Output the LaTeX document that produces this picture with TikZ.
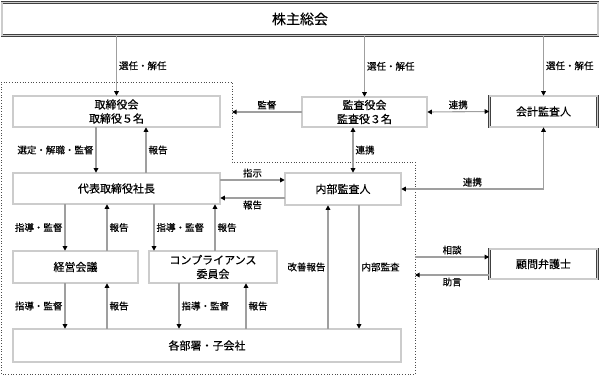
\documentclass[tikz,border=0pt]{standalone}
\usepackage{fontspec}
\setmainfont{Noto Sans CJK JP}[FakeBold=0.35]
\usetikzlibrary{arrows.meta,positioning,calc}
\tikzset{
    every picture/.style={line width=0.75pt},
    kbox/.style={draw=gray!50!black, double=gray!40, double distance=1.1pt, line width=0.55pt,
        fill=white, align=center, inner sep=0pt, font=\fontsize{11}{14}\selectfont},
    conn/.style={draw=gray!75, line width=1.1pt, -{Triangle[length=4.5pt,width=4.5pt,color=black]}},
    bconn/.style={conn, {Triangle[length=4.5pt,width=4.5pt,color=black]}-{Triangle[length=4.5pt,width=4.5pt,color=black]}},
    lbl/.style={font=\fontsize{9.5}{11}\selectfont, text=black, inner sep=2pt},
    border/.style={draw=gray!60!black, dotted, line width=0.7pt},
}

\begin{document}
\begin{tikzpicture}[x=1pt, y=-1pt]
    \useasboundingbox (0,0) rectangle (601,375);
    % 点線の枠
    \draw[border] (1,82) -- (232,82) -- (232,162) -- (415,162) -- (415,374) -- (1,374) -- cycle;
    % 各ボックス
    \node[kbox, minimum width=596pt, minimum height=33pt, font=\fontsize{14}{16}\selectfont] (soukai) at (300,19) {株主総会};
    \node[kbox, minimum width=207pt, minimum height=31pt] (torishimari) at (116.5,111.5) {取締役会\\取締役５名};
    \node[kbox, minimum width=125pt, minimum height=30pt] (kansayaku) at (364.5,112) {監査役会\\監査役３名};
    \node[kbox, minimum width=108pt, minimum height=31pt] (kaikei) at (543.5,111.5) {会計監査人};
    \node[kbox, minimum width=207pt, minimum height=31pt] (daihyo) at (116.5,188.5) {代表取締役社長};
    \node[kbox, minimum width=116pt, minimum height=32pt] (naibu) at (343,189) {内部監査人};
    \node[kbox, minimum width=125pt, minimum height=32pt] (keiei) at (75.5,267) {経営会議};
    \node[kbox, minimum width=128pt, minimum height=32pt] (compl) at (213,267) {コンプライアンス\\委員会};
    \node[kbox, minimum width=388pt, minimum height=33pt] (kakubu) at (207,345.5) {各部署・子会社};
    \node[kbox, minimum width=108pt, minimum height=30pt] (bengoshi) at (543.5,264) {顧問弁護士};
    % 矢印の位置
    \coordinate (xSentei) at (96,0);
    \coordinate (xHoukokuA) at (146,0);
    \coordinate (xRenkei) at (353,0);
    \coordinate (yShiji) at (0,180);
    \coordinate (yHoukokuB) at (0,198);
    \coordinate (xShidouA) at (65,0);
    \coordinate (xHoukokuC) at (107,0);
    \coordinate (xShidouB) at (154,0);
    \coordinate (xHoukokuD) at (215,0);
    \coordinate (xShidouC) at (179,0);
    \coordinate (xHoukokuE) at (246,0);
    \coordinate (xKaizen) at (328,0);
    \coordinate (xKansa) at (359,0);
    \coordinate (kantokuEnd) at (232,112);
    \coordinate (soudanEnd) at (415,257);
    \coordinate (jogenEnd) at (415,275);
    % 株主総会から
    \draw[conn] (soukai.south -| torishimari.north) -- (torishimari.north) node[midway, right, lbl] {選任・解任};
    \draw[conn] (soukai.south -| kansayaku.north) -- (kansayaku.north) node[midway, right, lbl] {選任・解任};
    \draw[conn] (soukai.south -| kaikei.north) -- (kaikei.north) node[midway, right, lbl] {選任・解任};
    % 監査役会
    \draw[bconn] (kansayaku.east) -- (kaikei.west) node[midway, above, lbl] {連携};
    \draw[conn] (kansayaku.west) -- (kantokuEnd) node[midway, above, lbl] {監督};
    \draw[bconn] (kansayaku.south -| xRenkei) -- (naibu.north -| xRenkei) node[midway, right, lbl] {連携};
    \draw[bconn] (kaikei.south) |- (naibu.east) node[pos=0.75, above, lbl] {連携};
    % 取締役会と代表
    \draw[conn] (torishimari.south -| xSentei) -- (daihyo.north -| xSentei) node[midway, left, lbl] {選定・解職・監督};
    \draw[conn] (daihyo.north -| xHoukokuA) -- (torishimari.south -| xHoukokuA) node[midway, right, lbl] {報告};
    \draw[conn] (daihyo.east |- yShiji) -- (naibu.west |- yShiji) node[midway, above, lbl] {指示};
    \draw[conn] (naibu.west |- yHoukokuB) -- (daihyo.east |- yHoukokuB) node[midway, below, lbl] {報告};
    % 代表から下へ
    \draw[conn] (daihyo.south -| xShidouA) -- (keiei.north -| xShidouA) node[midway, left, lbl] {指導・監督};
    \draw[conn] (keiei.north -| xHoukokuC) -- (daihyo.south -| xHoukokuC) node[midway, right, lbl] {報告};
    \draw[conn] (daihyo.south -| xShidouB) -- (compl.north -| xShidouB) node[midway, right, lbl] {指導・監督};
    \draw[conn] (compl.north -| xHoukokuD) -- (daihyo.south -| xHoukokuD) node[midway, right, lbl] {報告};
    % 各部署へ
    \draw[conn] (keiei.south -| xShidouA) -- (kakubu.north -| xShidouA) node[midway, left, lbl] {指導・監督};
    \draw[conn] (kakubu.north -| xHoukokuC) -- (keiei.south -| xHoukokuC) node[midway, right, lbl] {報告};
    \draw[conn] (compl.south -| xShidouC) -- (kakubu.north -| xShidouC) node[midway, right, lbl] {指導・監督};
    \draw[conn] (kakubu.north -| xHoukokuE) -- (compl.south -| xHoukokuE) node[midway, right, lbl] {報告};
    % 内部監査
    \draw[conn] (kakubu.north -| xKaizen) -- (naibu.south -| xKaizen) node[midway, left, lbl] {改善報告};
    \draw[conn] (naibu.south -| xKansa) -- (kakubu.north -| xKansa) node[midway, right, lbl] {内部監査};
    % 顧問弁護士
    \draw[conn] (soudanEnd) -- (bengoshi.west |- soudanEnd) node[midway, above, lbl] {相談};
    \draw[conn] (bengoshi.west |- jogenEnd) -- (jogenEnd) node[midway, below, lbl] {助言};
\end{tikzpicture}
\end{document}
